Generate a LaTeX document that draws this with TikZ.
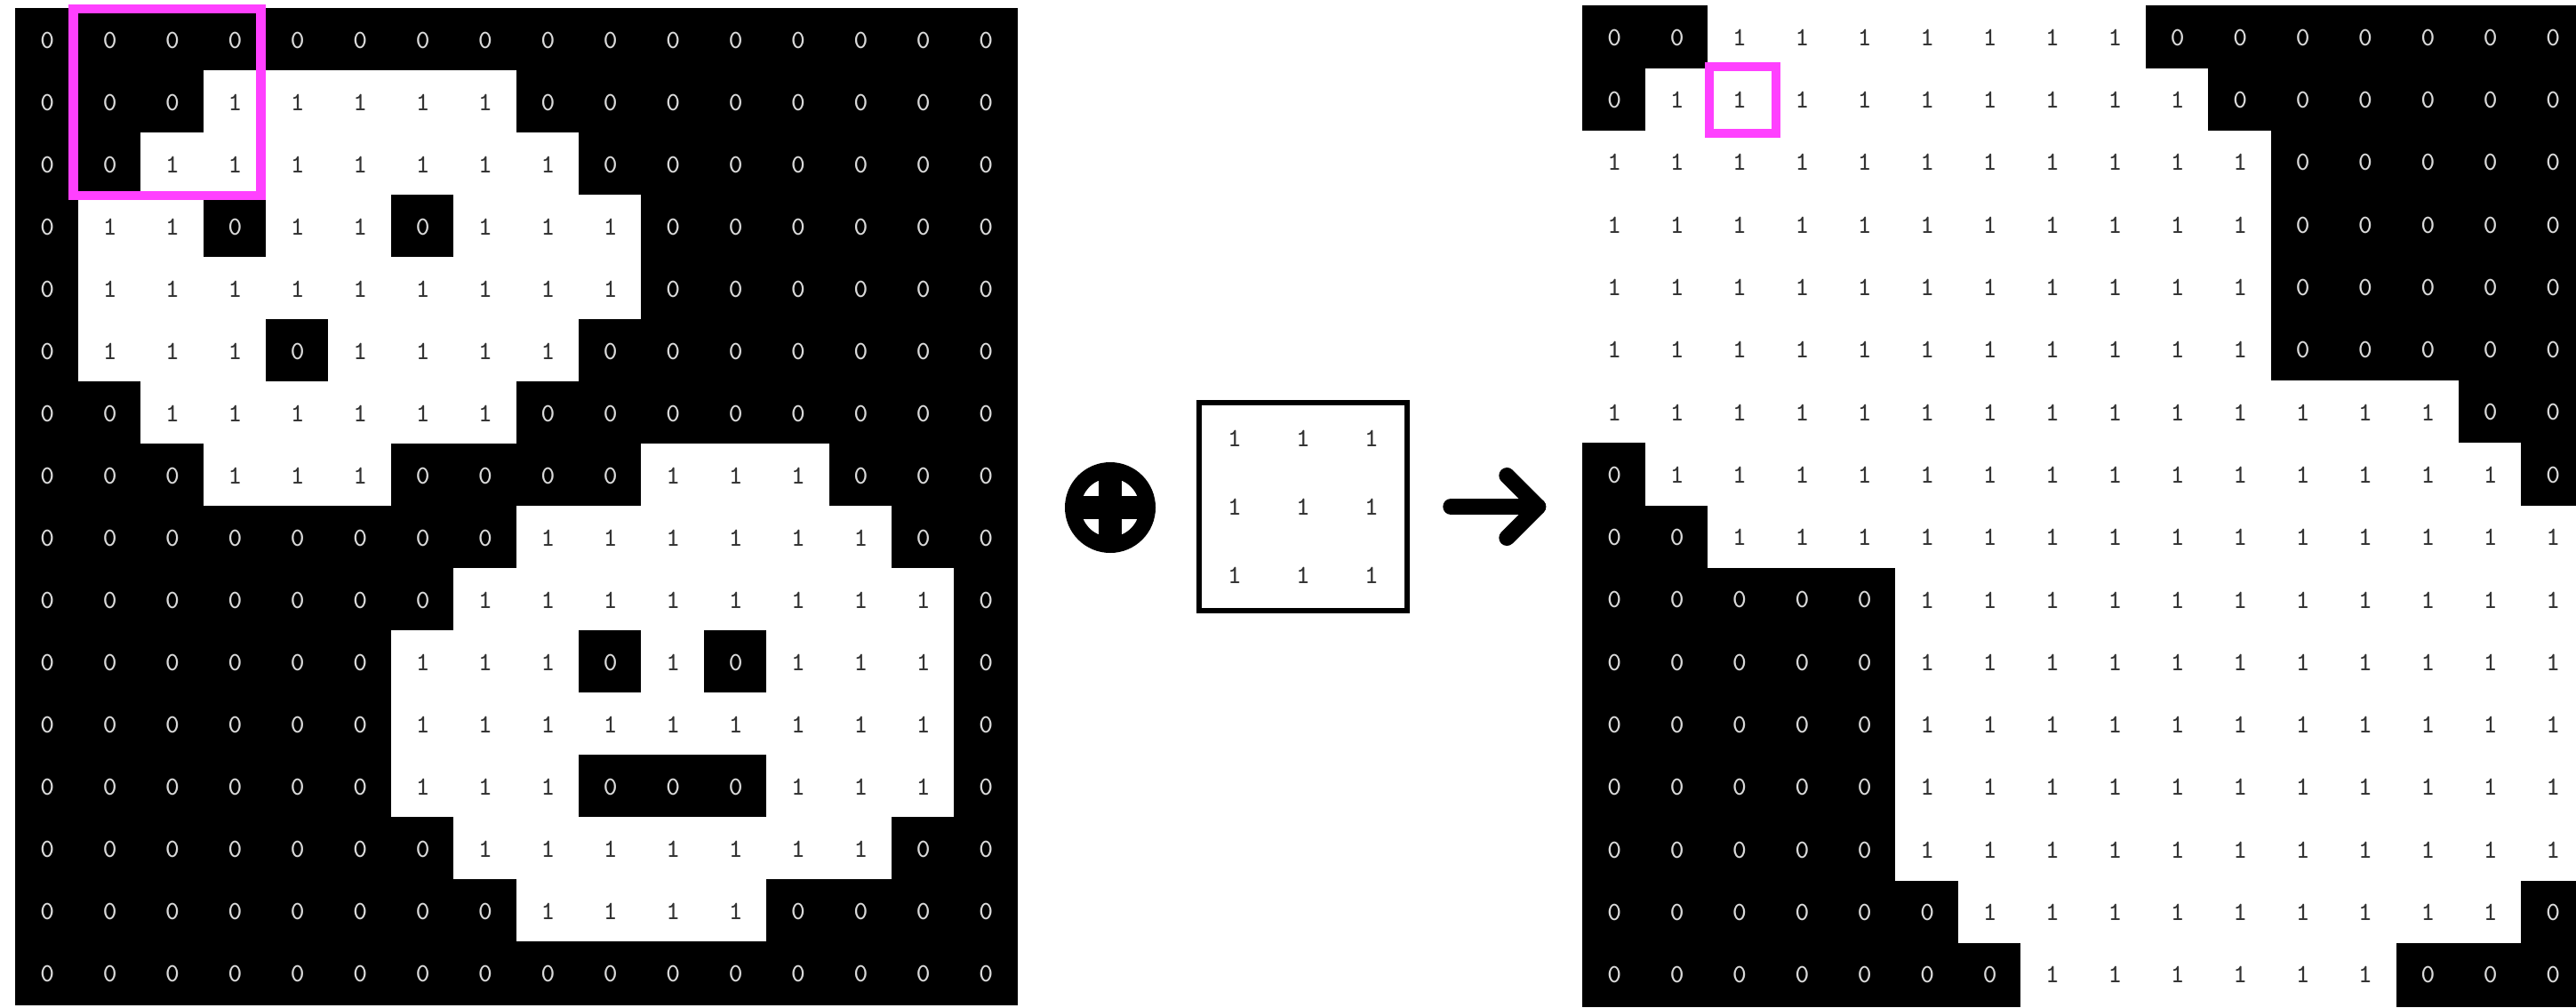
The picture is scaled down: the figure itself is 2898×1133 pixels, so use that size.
\documentclass[tikz,border=0pt]{standalone}
\usetikzlibrary{positioning, fit, calc, shapes.geometric}
\definecolor{rosa}{RGB}{255,64,255}

\begin{document}
\begin{tikzpicture}[
		% Escala en píxeles de la figura
		x=0.1mm, y=-0.1mm,
		% Estilos de las celdas de la imagen binaria
		celda/.style={rectangle, minimum width=7.04mm, minimum height=7.03mm, inner sep=0pt, outer sep=0pt, line width=0.4pt, font=\ttfamily\fontsize{8.4}{10}\selectfont},
		celda0/.style={celda, fill=black, draw=black, text=black!15},
		celda1/.style={celda, fill=white, draw=white, text=black!80},
		% Elemento estructurante
		elem/.style={celda1, minimum width=7.7mm, minimum height=7.7mm},
		marco/.style={draw=black, line width=0.65mm, inner sep=0.15mm},
		% Resaltado de la vecindad
		resalte/.style={draw=rosa, line width=1.05mm, inner sep=0pt},
		% Operador y flecha
		operador/.style={circle, draw=black, line width=1.8mm, minimum size=8.4mm, inner sep=0pt, outer sep=0pt},
		cruz/.style={draw=black, line width=2.65mm},
		flecha/.style={draw=black, line width=1.8mm, line cap=round, line join=round}
		]
		
		\useasboundingbox (0,0) rectangle (2898,1133);
		\fill[white] (0,0) rectangle (2898,1133);
		\clip (0,0) rectangle (2898,1133);
		
		% --- IMAGEN DE ENTRADA ---
		\foreach \fila [count=\r from 0] in {
			{0,0,0,0,0,0,0,0,0,0,0,0,0,0,0,0},
			{0,0,0,1,1,1,1,1,0,0,0,0,0,0,0,0},
			{0,0,1,1,1,1,1,1,1,0,0,0,0,0,0,0},
			{0,1,1,0,1,1,0,1,1,1,0,0,0,0,0,0},
			{0,1,1,1,1,1,1,1,1,1,0,0,0,0,0,0},
			{0,1,1,1,0,1,1,1,1,0,0,0,0,0,0,0},
			{0,0,1,1,1,1,1,1,0,0,0,0,0,0,0,0},
			{0,0,0,1,1,1,0,0,0,0,1,1,1,0,0,0},
			{0,0,0,0,0,0,0,0,1,1,1,1,1,1,0,0},
			{0,0,0,0,0,0,0,1,1,1,1,1,1,1,1,0},
			{0,0,0,0,0,0,1,1,1,0,1,0,1,1,1,0},
			{0,0,0,0,0,0,1,1,1,1,1,1,1,1,1,0},
			{0,0,0,0,0,0,1,1,1,0,0,0,1,1,1,0},
			{0,0,0,0,0,0,0,1,1,1,1,1,1,1,0,0},
			{0,0,0,0,0,0,0,0,1,1,1,1,0,0,0,0},
			{0,0,0,0,0,0,0,0,0,0,0,0,0,0,0,0}}{
			\foreach \v [count=\c from 0] in \fila
				\node[celda\v] (ent-\r-\c) at ({53.2+70.4*\c}, {45+70*\r}) {\v};
		}
		
		% --- OPERADOR DE DILATACIÓN ---
		\node[operador] (dilata) at (1249,571) {};
		\draw[cruz] (dilata.north) -- (dilata.south);
		\draw[cruz] (dilata.west) -- (dilata.east);
		
		% --- ELEMENTO ESTRUCTURANTE 3x3 ---
		\foreach \r in {0,1,2}
			\foreach \c in {0,1,2}
				\node[elem] (se-\r-\c) at ({1389+77*\c}, {493+77*\r}) {1};
		\node[marco, fit=(se-0-0) (se-2-2)] (elemento) {};
		
		% --- FLECHA HACIA EL RESULTADO ---
		\coordinate (cola) at ($(elemento.east)+(46,0)$);
		\coordinate (punta) at ($(cola)+(98,0)$);
		\draw[flecha] (cola) -- (punta);
		\draw[flecha] ($(punta)+(-35,-35)$) -- (punta) -- ($(punta)+(-35,35)$);
		
		% --- IMAGEN DILATADA ---
		\foreach \fila [count=\r from 0] in {
			{0,0,1,1,1,1,1,1,1,0,0,0,0,0,0,0},
			{0,1,1,1,1,1,1,1,1,1,0,0,0,0,0,0},
			{1,1,1,1,1,1,1,1,1,1,1,0,0,0,0,0},
			{1,1,1,1,1,1,1,1,1,1,1,0,0,0,0,0},
			{1,1,1,1,1,1,1,1,1,1,1,0,0,0,0,0},
			{1,1,1,1,1,1,1,1,1,1,1,0,0,0,0,0},
			{1,1,1,1,1,1,1,1,1,1,1,1,1,1,0,0},
			{0,1,1,1,1,1,1,1,1,1,1,1,1,1,1,0},
			{0,0,1,1,1,1,1,1,1,1,1,1,1,1,1,1},
			{0,0,0,0,0,1,1,1,1,1,1,1,1,1,1,1},
			{0,0,0,0,0,1,1,1,1,1,1,1,1,1,1,1},
			{0,0,0,0,0,1,1,1,1,1,1,1,1,1,1,1},
			{0,0,0,0,0,1,1,1,1,1,1,1,1,1,1,1},
			{0,0,0,0,0,1,1,1,1,1,1,1,1,1,1,1},
			{0,0,0,0,0,0,1,1,1,1,1,1,1,1,1,0},
			{0,0,0,0,0,0,0,1,1,1,1,1,1,0,0,0}}{
			\foreach \v [count=\c from 0] in \fila
				\node[celda\v] (sal-\r-\c) at ({1816.2+70.4*\c}, {42.15+70.3*\r}) {\v};
		}
		
		% --- VECINDAD Y PÍXEL RESULTANTE ---
		\node[resalte, fit=(ent-0-1) (ent-2-3), xshift=-0.6mm] (vecindad) {};
		\node[resalte, fit=(sal-1-2), inner sep=0.25mm, xshift=0.35mm] (pixel) {};
		
	\end{tikzpicture}
\end{document}
